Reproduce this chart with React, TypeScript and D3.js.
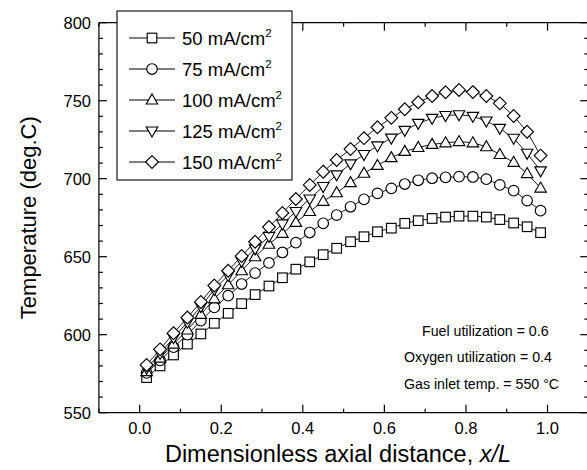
import React from "react";
import * as d3 from "d3";

const xPos = [0.017, 0.05, 0.083, 0.117, 0.15, 0.183, 0.217, 0.25, 0.283, 0.317, 0.35, 0.383, 0.417, 0.45, 0.483, 0.517, 0.55, 0.583, 0.617, 0.65, 0.683, 0.717, 0.75, 0.783, 0.817, 0.85, 0.883, 0.917, 0.95, 0.983];

const t50 = [572.5, 580, 587, 594, 600.5, 607.3, 613.7, 619.9, 625.7, 631.2, 636.5, 642, 646.7, 651.3, 655.4, 659.6, 662.8, 666, 668.3, 671.4, 673.1, 674.5, 675.4, 676, 676, 675.4, 673.8, 671.6, 669.2, 665.4];
const t75 = [575.5, 583.5, 592, 600, 609, 617.5, 625, 632.5, 639.5, 646, 652.7, 659, 665.5, 671.4, 676.7, 682, 686.8, 690.6, 693.8, 696.6, 699, 700.3, 700.9, 701.3, 701.1, 699.7, 696, 692.3, 686, 679.5];
const t100 = [576.3, 585, 594, 603, 613, 623, 632, 641, 650, 658, 665, 672, 679, 685.5, 691, 697.5, 703.5, 708.5, 713.5, 717.5, 720, 722, 723, 723.8, 723, 720.5, 715.5, 710.5, 703.3, 694];
const t125 = [578.5, 588, 598, 608, 618, 629, 638, 647, 655, 663, 671, 679, 687, 695, 702.5, 709.5, 715.5, 721, 726, 731, 735.5, 738.7, 740.5, 741, 740, 737, 732.3, 725.9, 716.3, 705];
const t150 = [580.6, 590.6, 601, 611, 621, 631.5, 641, 650.4, 659.6, 669, 678, 687, 696, 704.5, 712, 719, 726, 733, 739, 744.5, 749, 753, 755.4, 756.9, 755.5, 753, 748.3, 740.2, 730.1, 714.8];

const seriesNames = ["50", "75", "100", "125", "150"];
const seriesValues = [t50, t75, t100, t125, t150];
const markerKinds = ["square", "circle", "triangleUp", "triangleDown", "diamond"];

const xMajorTicks = [0.0, 0.2, 0.4, 0.6, 0.8, 1.0];
const xMinorTicks = [-0.1, 0.1, 0.3, 0.5, 0.7, 0.9, 1.1];
const yMajorTicks = [550, 600, 650, 700, 750, 800];
const yMinorTicks = d3.range(550, 801, 10).filter((v) => v % 50 !== 0);

const annotations = ["Fuel utilization = 0.6", "Oxygen utilization = 0.4", "Gas inlet temp. = 550 \u00B0C"];

const FONT = "'Liberation Sans', Arial, Helvetica, sans-serif";

function Marker({ kind, cx, cy }: { kind: string; cx: number; cy: number }) {
  const common = { fill: "white", stroke: "black", strokeWidth: 1.15 };
  if (kind === "square") {
    const s = 9.6;
    return <rect x={cx - s / 2} y={cy - s / 2} width={s} height={s} {...common} />;
  }
  if (kind === "circle") {
    return <circle cx={cx} cy={cy} r={5.3} {...common} />;
  }
  if (kind === "triangleUp") {
    const h = 10, w = 11.5;
    return <path d={`M${cx},${cy - h * 0.6}L${cx + w / 2},${cy + h * 0.4}L${cx - w / 2},${cy + h * 0.4}Z`} {...common} />;
  }
  if (kind === "triangleDown") {
    const h = 10, w = 11.5;
    return <path d={`M${cx},${cy + h * 0.6}L${cx + w / 2},${cy - h * 0.4}L${cx - w / 2},${cy - h * 0.4}Z`} {...common} />;
  }
  const r = 6.4;
  return <path d={`M${cx},${cy - r}L${cx + r},${cy}L${cx},${cy + r}L${cx - r},${cy}Z`} {...common} />;
}

export default function App() {
  const W = 587, H = 470;
  const left = 98.9, right = 588.3, top = 22.7, bottom = 412.7;
  const x = d3.scaleLinear().domain([-0.1, 1.1]).range([left, right]);
  const y = d3.scaleLinear().domain([550, 800]).range([bottom, top]);
  const line = d3.line<number>().x((_, i) => x(xPos[i])).y((d) => y(d));

  const majorLen = 8, minorLen = 4;

  const legendX = 117, legendY = 11, legendW = 175, legendH = 169;
  const legendRowY = (i: number) => 38 + i * 31;

  return (
    <svg width={W} height={H} style={{ position: "absolute", left: 0, top: 0, background: "white" }} fontFamily={FONT}>
      <rect x={0} y={0} width={W} height={H} fill="white" />
      {seriesValues.map((vals, si) => (
        <path key={"l" + si} d={line(vals) || ""} fill="none" stroke="black" strokeWidth={0.9} />
      ))}
      {seriesValues.map((vals, si) => (
        <g key={"m" + si}>
          {vals.map((v, i) => (
            <Marker key={i} kind={markerKinds[si]} cx={x(xPos[i])} cy={y(v)} />
          ))}
        </g>
      ))}

      <g stroke="black" strokeWidth={1.2}>
        <line x1={left} x2={right} y1={bottom} y2={bottom} />
        <line x1={left} x2={right} y1={top} y2={top} />
        <line x1={left} x2={left} y1={top} y2={bottom} />
        <line x1={right} x2={right} y1={top} y2={bottom} />
        {xMajorTicks.map((t) => (
          <g key={"xm" + t}>
            <line x1={x(t)} x2={x(t)} y1={bottom} y2={bottom - majorLen} />
            <line x1={x(t)} x2={x(t)} y1={top} y2={top + majorLen} />
          </g>
        ))}
        {xMinorTicks.map((t) => (
          <g key={"xn" + t}>
            <line x1={x(t)} x2={x(t)} y1={bottom} y2={bottom - minorLen} />
            <line x1={x(t)} x2={x(t)} y1={top} y2={top + minorLen} />
          </g>
        ))}
        {yMajorTicks.map((t) => (
          <g key={"ym" + t}>
            <line x1={left} x2={left + majorLen} y1={y(t)} y2={y(t)} />
            <line x1={right} x2={right - majorLen} y1={y(t)} y2={y(t)} />
          </g>
        ))}
        {yMinorTicks.map((t) => (
          <g key={"yn" + t}>
            <line x1={left} x2={left + minorLen} y1={y(t)} y2={y(t)} />
            <line x1={right} x2={right - minorLen} y1={y(t)} y2={y(t)} />
          </g>
        ))}
      </g>

      {xMajorTicks.map((t) => (
        <text key={"xt" + t} x={x(t)} y={434} textAnchor="middle" fontSize={16.5} fill="black">
          {t.toFixed(1)}
        </text>
      ))}
      {yMajorTicks.map((t) => (
        <text key={"yt" + t} x={91} y={y(t) + 6} textAnchor="end" fontSize={16.5} fill="black">
          {t}
        </text>
      ))}

      <text x={338} y={462} textAnchor="middle" fontSize={23.5} fill="black">
        Dimensionless axial distance, <tspan fontStyle="italic">x/L</tspan>
      </text>
      <text transform={`translate(36,${(top + bottom) / 2}) rotate(-90)`} textAnchor="middle" fontSize={22} fill="black">
        Temperature (deg.C)
      </text>

      <text x={422} y={336} fontSize={14.2} fill="black">{annotations[0]}</text>
      <text x={404} y={362} fontSize={14.2} fill="black">{annotations[1]}</text>
      <text x={404} y={389} fontSize={14.2} fill="black">{annotations[2]}</text>

      <rect x={legendX} y={legendY} width={legendW} height={legendH} fill="white" stroke="black" strokeWidth={1.1} />
      {seriesNames.map((n, i) => (
        <g key={"lg" + i}>
          <line x1={129} x2={175} y1={legendRowY(i)} y2={legendRowY(i)} stroke="black" strokeWidth={1.1} />
          <Marker kind={markerKinds[i]} cx={152} cy={legendRowY(i)} />
          <text x={182} y={legendRowY(i) + 6.5} fontSize={18.5} fill="black">
            {n} mA/cm<tspan fontSize={11.5} dy={-7.5}>2</tspan>
          </text>
        </g>
      ))}
    </svg>
  );
}
